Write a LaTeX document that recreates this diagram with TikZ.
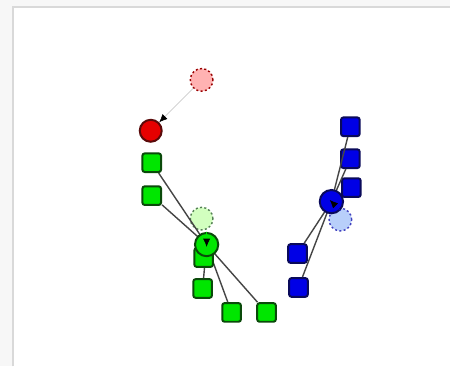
\documentclass[tikz,border=0pt]{standalone}
\usepackage{tikz}
\usetikzlibrary{arrows.meta}

\definecolor{pane}{HTML}{F7F7F7}
\definecolor{rim}{HTML}{D9D9D9}
\definecolor{edgegray}{HTML}{454545}
\definecolor{gfill}{HTML}{00E600}
\definecolor{gline}{HTML}{0A4A0A}
\definecolor{bfill}{HTML}{0000E6}
\definecolor{bline}{HTML}{0A0A5A}
\definecolor{rfill}{HTML}{E60000}
\definecolor{rline}{HTML}{5A0A0A}

\begin{document}
\begin{tikzpicture}[x=0.03cm, y=-0.03cm,
  every node/.style={inner sep=0pt, line width=1.7pt},
  gsq/.style={rectangle, rounded corners=2pt, draw=gline, fill=gfill, minimum size=0.56cm},
  bsq/.style={rectangle, rounded corners=2pt, draw=bline, fill=bfill, minimum size=0.56cm},
  gdot/.style={circle, draw=gline, fill=gfill, minimum size=0.7cm},
  bdot/.style={circle, draw=bline, fill=bfill, minimum size=0.7cm},
  rdot/.style={circle, draw=rline, fill=rfill, minimum size=0.66cm},
  ghost/.style={circle, dotted, line width=1.2pt, minimum size=0.68cm},
  link/.style={draw=edgegray, line width=1.2pt},
  move/.style={draw=black!25, line width=0.5pt, -{Latex[length=7pt, width=6pt, black]}}]
% frame
\fill[pane] (0,0) rectangle (451,367);
\fill[white] (13,7) rectangle (451,367);
\draw[rim, line width=1.4pt] (13,367) -- (13,7) -- (451,7);
\useasboundingbox (0,0) rectangle (451,367);

% ghosts
\node[ghost, draw=red!60!black, fill=red!30] (rg) at (202,80) {};
\node[ghost, draw=gline!70, fill=green!60!lime!25] (gg) at (202,219) {};
\node[ghost, draw=blue!50!gray, fill={rgb,255:red,184;green,207;blue,250}] (bg) at (341,220) {};

% green group
\coordinate (gcp) at (207,245);
\node[gsq] (g1) at (152,163) {};
\node[gsq] (g2) at (152,196) {};
\node[gsq] (g4) at (203,289) {};
\node[gsq] (g5) at (232,313) {};
\node[gsq] (g6) at (267,313) {};
\draw[link] (g1) -- (gcp);
\draw[link] (g2) -- (gcp);
\draw[link] (g4) -- (gcp);
\draw[link] (g5) -- (gcp);
\draw[link] (g6) -- (gcp);
\node[gsq] (g3) at (204,258) {};
\node[gdot] (gc) at (gcp) {};

% blue group
\coordinate (bcp) at (332,202);
\node[bsq] (b1) at (351,127) {};
\node[bsq] (b2) at (351,159) {};
\node[bsq] (b3) at (352,188) {};
\node[bsq] (b4) at (298,254) {};
\node[bsq] (b5) at (299,288) {};
\draw[link] (b1) -- (bcp);
\draw[link] (b2) -- (bcp);
\draw[link] (b3) -- (bcp);
\draw[link] (b4) -- (bcp);
\draw[link] (b5) -- (bcp);
\node[bdot] (bc) at (bcp) {};

% red
\node[rdot] (rc) at (151,131) {};

% moves
\draw[move] (rg) -- (rc);
\draw[move, draw=gfill, shorten >=-2pt] (gc.north) -- (gc.center);
\draw[move, draw=bfill, shorten >=-2pt] (bc.south east) -- (bc.center);
\end{tikzpicture}
\end{document}
